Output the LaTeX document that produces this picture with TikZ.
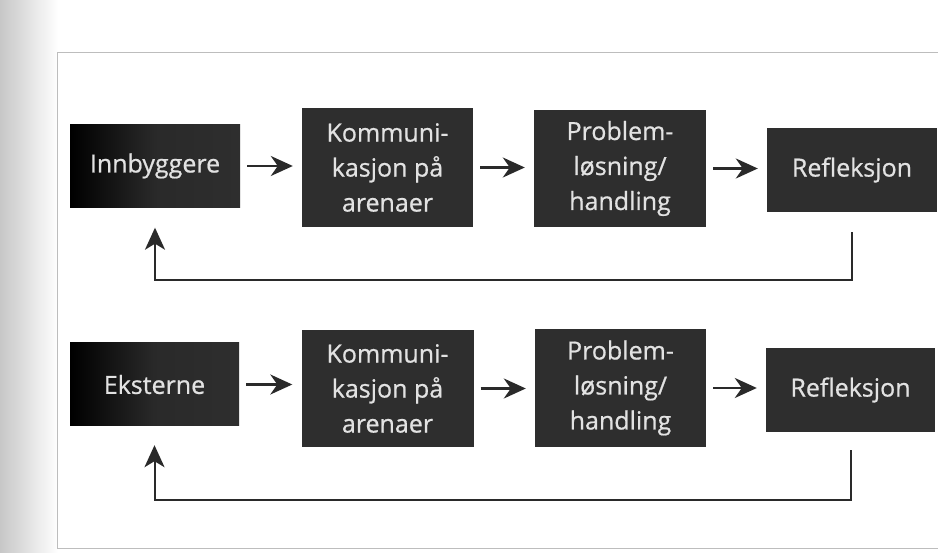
\documentclass[tikz,border=0pt]{standalone}
\usepackage{fontspec}
\newfontfamily\boxfont{Open Sans}[FakeBold=0.7]
\usetikzlibrary{arrows.meta}
\definecolor{boxgray}{HTML}{2E2E2E}
\definecolor{boxtext}{HTML}{E2E2E2}
\definecolor{linegray}{HTML}{2A2A2A}
\definecolor{framegray}{HTML}{BDBDBD}
\tikzset{
  stepbox/.style={fill=boxgray, draw=none, text=boxtext, align=center,
    inner sep=0pt, font=\boxfont\fontsize{25}{35}\selectfont},
  startbox/.style={stepbox, left color=black, right color=boxgray, middle color=boxgray!90!black},
  flow/.style={draw=linegray, line width=2.4pt, -{Stealth[length=22pt,width=20pt,inset=7pt]}},
  feedback/.style={draw=linegray, line width=2pt, -{Stealth[length=22pt,width=20pt,inset=6pt]}},
  pageframe/.style={draw=framegray, line width=1pt}
}
\begin{document}
\begin{tikzpicture}[x=1pt, y=-1pt]
  % page area
  \useasboundingbox (0,0) rectangle (938,553);
  \fill[white] (0,0) rectangle (938,553);
  \shade[left color=black!22, right color=white] (0,0) rectangle (58,553);
  \draw[pageframe] (938,53) -- (57,53) -- (57,548) -- (938,548);

  % first row
  \node[startbox, minimum width=170pt, minimum height=83pt]  (a1) at (155,166)   {Innbyggere};
  \node[stepbox,  minimum width=171pt, minimum height=119pt] (b1) at (387.5,167.5) {Kommuni-\\kasjon på\\arenaer};
  \node[stepbox,  minimum width=172pt, minimum height=117pt] (c1) at (620,168.5) {Problem-\\løsning/\\handling};
  \node[stepbox,  minimum width=170pt, minimum height=84pt]  (d1) at (852,170)   {Refleksjon};

  % second row
  \node[startbox, minimum width=169pt, minimum height=83pt]  (a2) at (154.5,384.5) {Eksterne};
  \node[stepbox,  minimum width=172pt, minimum height=117pt] (b2) at (387.5,388.5) {Kommuni-\\kasjon på\\arenaer};
  \node[stepbox,  minimum width=171pt, minimum height=118pt] (c2) at (620.5,388)   {Problem-\\løsning/\\handling};
  \node[stepbox,  minimum width=169pt, minimum height=84pt]  (d2) at (850.5,390)   {Refleksjon};

  % levels of the return lines
  \coordinate (r1) at (0,280);
  \coordinate (r2) at (0,500);

  % forward arrows
  \foreach \p/\q in {a1/b1, b1/c1, c1/d1, a2/b2, b2/c2, c2/d2}
    \draw[flow, shorten <=7pt, shorten >=9pt] (\p.east) -- (\p.east -| \q.west);

  % return arrows
  \draw[feedback] ([yshift=-20pt]d1.south) -- (d1.south |- r1) -- (a1.south |- r1) -- ([yshift=-20pt]a1.south);
  \draw[feedback] ([yshift=-18pt]d2.south) -- (d2.south |- r2) -- (a2.south |- r2) -- ([yshift=-19pt]a2.south);
\end{tikzpicture}
\end{document}
